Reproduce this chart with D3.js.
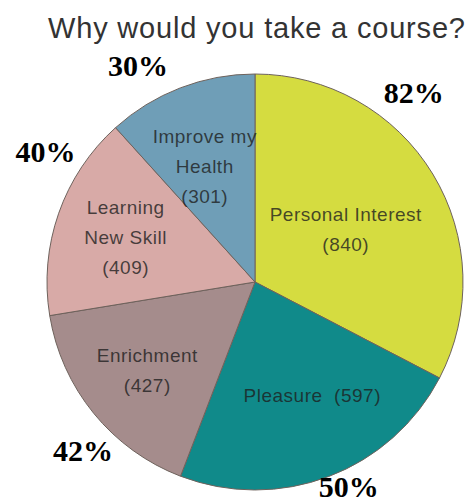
<!DOCTYPE html>
<html>
<head>
<meta charset="utf-8">
<script src="https://cdn.jsdelivr.net/npm/d3@7"></script>
<style>
  body { margin: 0; background: #fff; }
</style>
</head>
<body>
<div id="chart"></div>
<script>
const title = "Why would you take a course?";

const categories = ["Personal Interest", "Pleasure", "Enrichment", "Learning New Skill", "Improve my Health"];
const counts = [840, 597, 427, 409, 301];
const percents = ["82%", "50%", "42%", "40%", "30%"];
const colors = ["#d5dc40", "#108a8a", "#a58c8c", "#d8aaa7", "#6f9eb7"];

// how each slice label breaks into lines
const labelLines = [
  ["Personal Interest", "(840)"],
  ["Pleasure  (597)"],
  ["Enrichment", "(427)"],
  ["Learning", "New Skill", "(409)"],
  ["Improve my", "Health", "(301)"],
];

const width = 473;
const height = 504;
const cx = 255;
const cy = 282;
const radius = 208;

// label placement as [angle in degrees, distance from centre]
const innerLabelPos = [[59.8, 105], [153.2, 127], [230.8, 139], [289.2, 137], [336.5, 126]];
const outerLabelPos = [[40, 247], [155.4, 225], [225.5, 241], [302, 247], [331.6, 246]];

function polar(p) {
  const a = (p[0] * Math.PI) / 180;
  return [p[1] * Math.sin(a), -p[1] * Math.cos(a)];
}

const svg = d3
  .select("#chart")
  .append("svg")
  .attr("width", width)
  .attr("height", height);

svg
  .append("text")
  .attr("x", 256.5)
  .attr("y", 38)
  .attr("text-anchor", "middle")
  .attr("textLength", 417)
  .attr("lengthAdjust", "spacing")
  .style("font-family", "'Liberation Sans', Arial, sans-serif")
  .style("font-size", "29px")
  .style("fill", "#333")
  .text(title);

const pie = d3.pie().sort(null).value((d) => d);
const arcs = pie(counts);

const arc = d3.arc().innerRadius(0).outerRadius(radius);

const g = svg.append("g").attr("transform", "translate(" + cx + "," + cy + ")");

g.selectAll("path.slice")
  .data(arcs)
  .enter()
  .append("path")
  .attr("class", "slice")
  .attr("d", arc)
  .style("fill", (d, i) => colors[i])
  .style("stroke", "#6e625c")
  .style("stroke-width", 1);

// labels inside slices
const lineHeight = 30;
arcs.forEach((d, i) => {
  const c = polar(innerLabelPos[i]);
  const lines = labelLines[i];
  const t = g
    .append("text")
    .attr("text-anchor", "middle")
    .style("white-space", "pre")
    .style("font-family", "'Liberation Sans', Arial, sans-serif")
    .style("font-size", "19px")
    .style("letter-spacing", "0.5px")
    .style("fill", "#1e1e1e")
    .style("fill-opacity", 0.8);
  lines.forEach((line, j) => {
    t.append("tspan")
      .attr("x", c[0])
      .attr("y", c[1] + (j - (lines.length - 1) / 2) * lineHeight)
      .attr("dy", "0.35em")
      .text(line);
  });
});

// percentages outside the pie
arcs.forEach((d, i) => {
  const p = polar(outerLabelPos[i]);
  g.append("text")
    .attr("x", p[0])
    .attr("y", p[1])
    .attr("dy", "0.35em")
    .attr("text-anchor", "middle")
    .style("font-family", "'Liberation Serif', 'Times New Roman', serif")
    .style("font-weight", "bold")
    .style("font-size", "30px")
    .style("fill", "#000")
    .text(percents[i]);
});
</script>
</body>
</html>
